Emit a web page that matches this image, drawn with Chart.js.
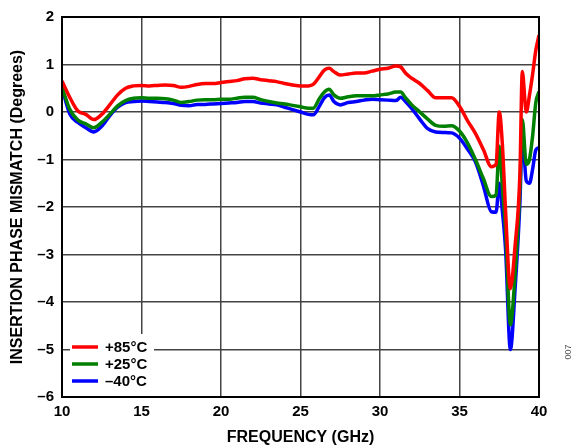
<!DOCTYPE html>
<html>
<head>
<meta charset="utf-8">
<script src="https://cdn.jsdelivr.net/npm/chart.js@4"></script>
<style>
  html, body { margin: 0; padding: 0; background: #fff; }
  #wrap { position: relative; width: 579px; height: 447px; }
</style>
</head>
<body>
<div id="wrap"><canvas id="phaseChart" width="579" height="447"></canvas></div>
<script>
// frequency points (GHz), shared by all three curves
const freq = [10, 10.5, 11, 11.5, 12, 12.5, 13, 13.5, 14, 14.5, 15, 15.5, 16, 16.5, 17, 17.5, 18, 18.5, 19, 19.5,
  20, 20.5, 21, 21.5, 22, 22.5, 23, 23.5, 24, 24.5, 25, 25.5, 25.8, 26.2, 26.5, 26.8, 27.1, 27.5, 28, 28.5,
  29, 29.5, 30, 30.5, 31, 31.3, 31.6, 32, 32.5, 33, 33.5, 34, 34.5, 35, 35.5, 36, 36.5, 37, 37.3, 37.5,
  37.7, 37.9, 38.2, 38.5, 38.8, 38.95, 39.2, 39.4, 39.6, 39.8, 40];

const hot = [0.65, 0.3, 0.02, -0.05, -0.16, -0.05, 0.15, 0.36, 0.5, 0.55, 0.56, 0.55, 0.56, 0.57, 0.56, 0.52, 0.54, 0.58, 0.6, 0.6,
  0.62, 0.64, 0.66, 0.7, 0.71, 0.68, 0.66, 0.64, 0.6, 0.57, 0.55, 0.55, 0.58, 0.75, 0.88, 0.92, 0.85, 0.78, 0.8, 0.82,
  0.82, 0.86, 0.9, 0.92, 0.97, 0.95, 0.82, 0.71, 0.6, 0.45, 0.3, 0.3, 0.3, 0.12, -0.18, -0.45, -0.79, -1.15, -1.1, 0.0,
  -0.7, -2.1, -3.72, -2.8, -1.3, 0.85, 0.0, 0.35, 0.8, 1.3, 1.62];

const room = [0.52, 0.05, -0.17, -0.25, -0.33, -0.22, -0.05, 0.13, 0.24, 0.29, 0.3, 0.29, 0.29, 0.28, 0.25, 0.2, 0.22, 0.25, 0.26, 0.26,
  0.27, 0.27, 0.29, 0.31, 0.31, 0.26, 0.22, 0.19, 0.17, 0.14, 0.11, 0.08, 0.08, 0.29, 0.42, 0.48, 0.36, 0.29, 0.32, 0.34,
  0.34, 0.34, 0.36, 0.38, 0.42, 0.42, 0.3, 0.15, 0.0, -0.15, -0.28, -0.3, -0.29, -0.4, -0.65, -1.0, -1.4, -1.78, -1.75, -0.72,
  -1.6, -2.5, -4.48, -3.4, -1.6, -0.16, -1.1, -1.0, -0.5, 0.2, 0.43];

const cold = [0.5, -0.05, -0.22, -0.33, -0.42, -0.3, -0.08, 0.1, 0.2, 0.22, 0.23, 0.22, 0.21, 0.2, 0.18, 0.14, 0.13, 0.16, 0.16, 0.17,
  0.18, 0.19, 0.2, 0.22, 0.22, 0.19, 0.17, 0.15, 0.1, 0.05, 0.0, -0.05, -0.06, 0.13, 0.3, 0.36, 0.22, 0.15, 0.2, 0.22,
  0.25, 0.27, 0.26, 0.25, 0.24, 0.31, 0.22, 0.07, -0.15, -0.35, -0.42, -0.43, -0.44, -0.55, -0.78, -1.05, -1.55, -2.1, -2.11, -1.5,
  -2.1, -2.9, -5.0, -3.7, -1.9, -0.45, -1.45, -1.5, -1.2, -0.8, -0.75];

const seriesNames = ["+85°C", "+25°C", "\u201340°C"];
const seriesColors = ["#ff0000", "#008000", "#0000ff"];

const toPoints = (vals) => vals.map((v, i) => ({ x: freq[i], y: v }));

Chart.defaults.font.family = "'Liberation Sans', Arial, sans-serif";
Chart.defaults.color = "#000";

// legend box in lower left of plot + small figure number
const legendBox = {
  id: "legendBox",
  afterDatasetsDraw(chart) {
    const c = chart.ctx;
    const a = chart.chartArea;
    c.save();
    c.fillStyle = "#fff";
    c.fillRect(a.left + 8, a.bottom - 63, 84, 62);
    c.font = "bold 15px 'Liberation Sans', Arial, sans-serif";
    c.textBaseline = "middle";
    seriesNames.forEach((name, i) => {
      const y = a.bottom - 50 + i * 17;
      c.strokeStyle = seriesColors[i];
      c.lineWidth = 3.5;
      c.beginPath();
      c.moveTo(a.left + 10, y);
      c.lineTo(a.left + 36, y);
      c.stroke();
      c.fillStyle = "#000";
      c.fillText(name, a.left + 43, y + 1);
    });
    // frame
    c.strokeStyle = "#000";
    c.lineWidth = 2;
    c.strokeRect(a.left, a.top, a.right - a.left, a.bottom - a.top);
    // figure number
    c.translate(569, 352);
    c.rotate(-Math.PI / 2);
    c.font = "9px 'Liberation Sans', Arial, sans-serif";
    c.fillStyle = "#555";
    c.textAlign = "center";
    c.fillText("007", 0, 0);
    c.restore();
  },
};

const chart = new Chart(document.getElementById("phaseChart"), {
  type: "line",
  data: {
    datasets: [hot, room, cold].map((vals, i) => ({
      label: seriesNames[i],
      data: toPoints(vals),
      borderColor: seriesColors[i],
      backgroundColor: seriesColors[i],
      borderWidth: 3.5,
      pointRadius: 0,
      cubicInterpolationMode: "monotone",
    })),
  },
  options: {
    responsive: false,
    animation: false,
    layout: { padding: { top: 14, right: 40, left: 0, bottom: 0 } },
    plugins: { legend: { display: false }, tooltip: { enabled: false } },
    scales: {
      x: {
        type: "linear",
        min: 10,
        max: 40,
        ticks: { stepSize: 5, padding: 6, font: { size: 15, weight: "bold" }, maxRotation: 0 },
        grid: { color: "#444", lineWidth: 1.5, drawTicks: false },
        border: { color: "#000", width: 2 },
        title: { display: true, text: "FREQUENCY (GHz)", font: { size: 16, weight: "bold" }, padding: { top: 1, bottom: 0 } },
        afterFit: (s) => { s.height = 50; },
      },
      y: {
        min: -6,
        max: 2,
        ticks: {
          stepSize: 1,
          padding: 8,
          font: { size: 15, weight: "bold" },
          callback: (v) => (v < 0 ? "\u2013" + Math.abs(v) : String(v)),
        },
        grid: { color: "#444", lineWidth: 1.5, drawTicks: false },
        border: { color: "#000", width: 2 },
        title: { display: true, text: "INSERTION PHASE MISMATCH (Degrees)", font: { size: 16, weight: "bold" }, padding: { top: 8, bottom: 4 } },
        afterFit: (s) => { s.width = 62; },
      },
    },
  },
  plugins: [legendBox],
});
</script>
</body>
</html>
